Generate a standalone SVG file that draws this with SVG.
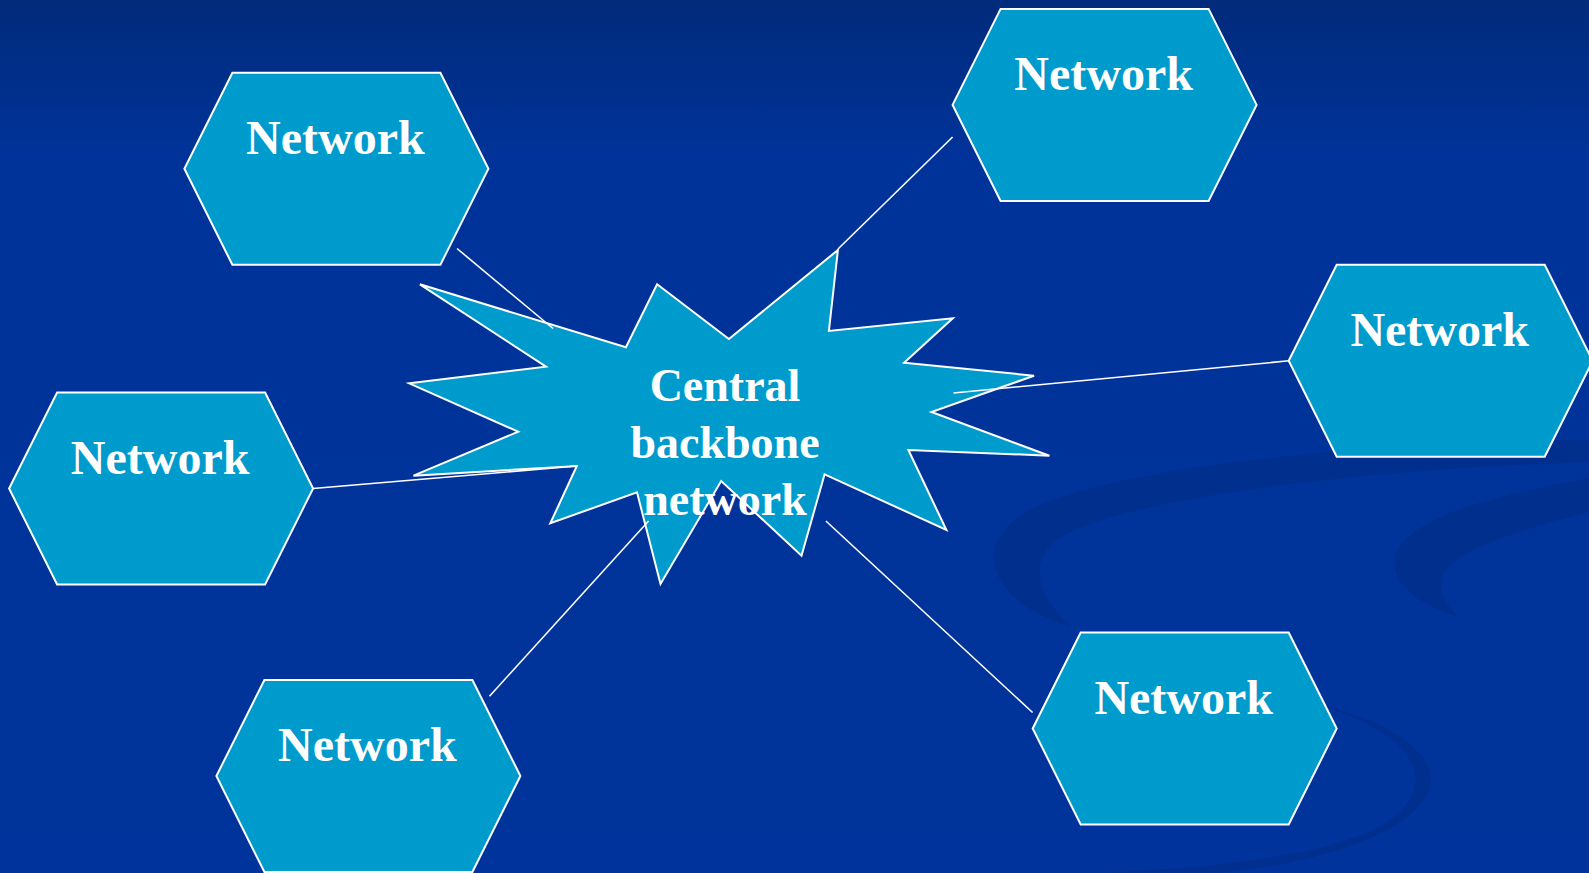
<svg xmlns="http://www.w3.org/2000/svg" width="1589" height="873" viewBox="0 0 1589 873">
<defs>
<linearGradient id="bg" x1="0" y1="0" x2="0" y2="1">
<stop offset="0" stop-color="#012a7a"/>
<stop offset="0.18" stop-color="#00339a"/>
<stop offset="1" stop-color="#00339b"/>
</linearGradient>
<style>
.hex{fill:#009bcd;stroke:#ffffff;stroke-width:2;stroke-linejoin:miter}
.star{fill:#009bcd;stroke:#ffffff;stroke-width:2;stroke-linejoin:miter}
.lbl{font-family:"Liberation Serif","Times New Roman",serif;font-weight:bold;font-size:48px;fill:#ffffff;text-anchor:middle}
.clbl{font-family:"Liberation Serif","Times New Roman",serif;font-weight:bold;font-size:46px;fill:#ffffff;text-anchor:middle}
.conn line{stroke:#ffffff;stroke-width:1.6}
.swoosh{fill:#002a80;opacity:0.45}
</style>
</defs>
<rect x="0" y="0" width="1589" height="873" fill="url(#bg)"/>
<g id="background-swooshes">
<path class="swoosh" d="M1589,440 C1400,442 1150,460 1040,505 C970,535 980,600 1072,627 C1040,600 1030,570 1050,545 C1100,500 1350,470 1589,462 Z"/>
<path class="swoosh" d="M1589,478 C1500,495 1410,515 1395,555 C1390,585 1420,605 1459,617 C1440,600 1435,580 1450,565 C1480,540 1540,525 1589,512 Z"/>
<path class="swoosh" d="M1300,700 C1400,725 1440,770 1400,812 C1360,850 1250,865 1110,873 L1220,873 C1340,860 1410,830 1430,790 C1440,750 1380,715 1300,700 Z"/>
</g>
<g id="central-backbone">
<polygon class="star" points="419.9,284.3 625.9,347.3 657.1,284.3 728.9,339 837.9,250 828.9,331 952.8,318.3 904.1,362.7 1034,375.7 931.5,412 1049.4,455.7 908.4,450 946.4,530 824.6,474.3 801.5,555.7 721.2,481 660.5,584 637,492.3 550.3,523.3 576.8,466 413.5,475.7 518.2,431.7 409.2,383.3 546,366.7"/>
</g>
<g id="network-1">
<polygon class="hex" points="184.4,168.8 232.4,72.8 440.4,72.8 488.4,168.8 440.4,264.8 232.4,264.8"/>
<text class="lbl" x="335.4" y="153.8">Network</text>
</g>
<g id="network-2">
<polygon class="hex" points="952.6,104.9 1000.6,8.9 1208.6,8.9 1256.6,104.9 1208.6,200.9 1000.6,200.9"/>
<text class="lbl" x="1103.6" y="89.9">Network</text>
</g>
<g id="network-3">
<polygon class="hex" points="1288.7,360.8 1336.7,264.8 1544.7,264.8 1592.7,360.8 1544.7,456.8 1336.7,456.8"/>
<text class="lbl" x="1439.7" y="345.8">Network</text>
</g>
<g id="network-4">
<polygon class="hex" points="9.1,488.5 57.1,392.5 265.1,392.5 313.1,488.5 265.1,584.5 57.1,584.5"/>
<text class="lbl" x="160.1" y="473.5">Network</text>
</g>
<g id="network-5">
<polygon class="hex" points="216.4,776 264.4,680 472.4,680 520.4,776 472.4,872 264.4,872"/>
<text class="lbl" x="367.4" y="761">Network</text>
</g>
<g id="network-6">
<polygon class="hex" points="1032.7,728.5 1080.7,632.5 1288.7,632.5 1336.7,728.5 1288.7,824.5 1080.7,824.5"/>
<text class="lbl" x="1183.7" y="713.5">Network</text>
</g>
<g id="connectors" class="conn">
<line x1="457" y1="248.5" x2="553" y2="328.5"/>
<line x1="838" y1="249" x2="952.6" y2="137"/>
<line x1="953.5" y1="393" x2="1289" y2="360.8"/>
<line x1="313.1" y1="488.5" x2="576.8" y2="466"/>
<line x1="489.5" y1="696.2" x2="648.6" y2="521"/>
<line x1="825.9" y1="521" x2="1032.6" y2="712.5"/>
</g>
<g id="central-label">
<text class="clbl" x="725" y="401">Central</text>
<text class="clbl" x="725" y="458">backbone</text>
<text class="clbl" x="725" y="515">network</text>
</g>
</svg>
